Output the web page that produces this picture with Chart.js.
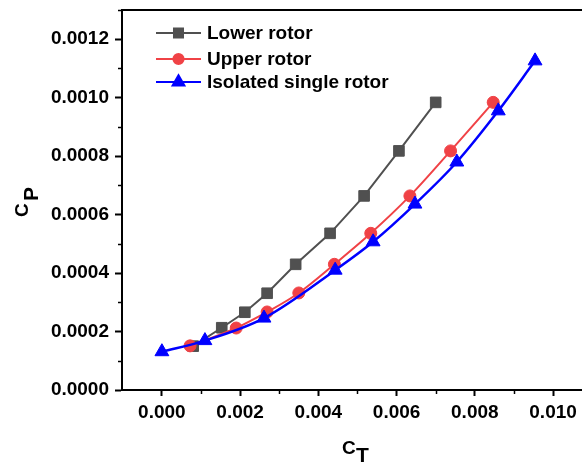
<!DOCTYPE html>
<html lang="en">
<head>
<meta charset="UTF-8">
<title>CP vs CT</title>
<style>
  html, body { margin: 0; padding: 0; background: #fff; overflow: hidden; }
  #wrap { width: 582px; height: 464px; position: relative; }
  canvas { display: block; }
</style>
</head>
<body>
<div id="wrap"><canvas id="grafico"></canvas></div>
<script src="https://cdn.jsdelivr.net/npm/chart.js"></script>
<script>
  // data
  const seriesNames = ['Lower rotor', 'Upper rotor', 'Isolated single rotor'];
  const lowerCT = [0.00080, 0.00153, 0.00212, 0.00269, 0.00342, 0.00430, 0.00517, 0.00606, 0.00700];
  const lowerCP = [0.000150, 0.000213, 0.000266, 0.000331, 0.000430, 0.000536, 0.000664, 0.000818, 0.000984];
  const upperCT = [0.00072, 0.00190, 0.00269, 0.00350, 0.00441, 0.00534, 0.00634, 0.00738, 0.00847];
  const upperCP = [0.000151, 0.000212, 0.000267, 0.000332, 0.000430, 0.000536, 0.000664, 0.000818, 0.000984];
  const singleCT = [0.00000, 0.00110, 0.00261, 0.00443, 0.00540, 0.00647, 0.00754, 0.00860, 0.00954];
  const singleCP = [0.000131, 0.000169, 0.000246, 0.000410, 0.000507, 0.000636, 0.000780, 0.000955, 0.001126];

  const xTicks = [0, 0.002, 0.004, 0.006, 0.008, 0.010];
  const xMinor = [0.001, 0.003, 0.005, 0.007, 0.009];
  const yTicks = [0, 0.0002, 0.0004, 0.0006, 0.0008, 0.0010, 0.0012];
  const yMinor = [0.0001, 0.0003, 0.0005, 0.0007, 0.0009, 0.0011, 0.0013];

  const cores = ['#505050', '#f04246', '#0000ff'];
  const estilos = ['rect', 'circle', 'triangle'];
  const raios = [7.5, 6, 8];

  function pontos(xs, ys) {
    return xs.map((x, i) => ({ x: x, y: ys[i] }));
  }

  const fonte = "'Liberation Sans', Arial, sans-serif";

  // legenda, borda de cima, ticks menores e títulos com subscrito
  const extras = {
    id: 'extras',
    afterDraw(chart) {
      const ctx = chart.ctx;
      const area = chart.chartArea;
      const sx = chart.scales.x, sy = chart.scales.y;
      ctx.save();
      ctx.strokeStyle = '#000';
      ctx.lineWidth = 2;
      ctx.beginPath();
      ctx.moveTo(area.left - 1, area.top);
      ctx.lineTo(area.right, area.top);
      ctx.stroke();

      ctx.lineWidth = 1.5;
      xMinor.forEach(v => {
        const px = Math.round(sx.getPixelForValue(v)) + 0.5;
        ctx.beginPath();
        ctx.moveTo(px, area.bottom);
        ctx.lineTo(px, area.bottom + 4);
        ctx.stroke();
      });
      yMinor.forEach(v => {
        const py = Math.round(sy.getPixelForValue(v)) + 0.5;
        ctx.beginPath();
        ctx.moveTo(area.left, py);
        ctx.lineTo(area.left - 4, py);
        ctx.stroke();
      });

      // legenda
      const linhas = [33, 59, 82];
      chart.data.datasets.forEach((ds, i) => {
        const y = linhas[i];
        ctx.strokeStyle = cores[i];
        ctx.fillStyle = cores[i];
        ctx.lineWidth = 2;
        ctx.beginPath();
        ctx.moveTo(156, y);
        ctx.lineTo(201, y);
        ctx.stroke();
        Chart.helpers.drawPoint(ctx, {
          pointStyle: estilos[i], radius: raios[i] * 0.85, rotation: 0, borderWidth: 1
        }, 178.5, y);
        ctx.fillStyle = '#000';
        ctx.font = 'bold 19px ' + fonte;
        ctx.textBaseline = 'middle';
        ctx.textAlign = 'left';
        ctx.fillText(ds.label, 207, y + 1);
      });

      // título do eixo x: C_T
      ctx.fillStyle = '#000';
      ctx.textBaseline = 'alphabetic';
      ctx.font = 'bold 19px ' + fonte;
      ctx.fillText('C', 342, 454);
      ctx.font = 'bold 21px ' + fonte;
      ctx.fillText('T', 356, 462);

      // título do eixo y: C_P (girado)
      ctx.translate(28, 217);
      ctx.rotate(-Math.PI / 2);
      ctx.font = 'bold 19px ' + fonte;
      ctx.fillText('C', 0, 0);
      ctx.font = 'bold 21px ' + fonte;
      ctx.fillText('P', 16, 10);
      ctx.restore();
    }
  };

  new Chart(document.getElementById('grafico'), {
    type: 'scatter',
    data: {
      datasets: [
        { label: seriesNames[0], data: pontos(lowerCT, lowerCP), order: 3, tension: 0 },
        { label: seriesNames[1], data: pontos(upperCT, upperCP), order: 2, cubicInterpolationMode: 'monotone' },
        { label: seriesNames[2], data: pontos(singleCT, singleCP), order: 1, cubicInterpolationMode: 'monotone' }
      ].map((ds, i) => Object.assign(ds, {
        showLine: true,
        borderColor: cores[i],
        backgroundColor: cores[i],
        borderWidth: i === 2 ? 2.5 : 2,
        pointStyle: estilos[i],
        pointRadius: raios[i],
        pointHoverRadius: raios[i],
        pointBorderWidth: 1,
        pointBackgroundColor: cores[i],
        pointBorderColor: cores[i]
      }))
    },
    options: {
      responsive: true,
      maintainAspectRatio: false,
      animation: false,
      layout: { autoPadding: false, padding: { top: 10, right: 0, bottom: 0, left: 0 } },
      plugins: { legend: { display: false }, tooltip: { enabled: false } },
      scales: {
        x: {
          type: 'linear',
          min: -0.00102,
          max: 0.01074,
          afterBuildTicks: s => { s.ticks = xTicks.map(v => ({ value: v })); },
          afterFit: s => { s.height = 74; s.paddingLeft = 0; s.paddingRight = 0; },
          grid: { drawOnChartArea: false, drawTicks: true, tickLength: 6, tickWidth: 2, tickColor: '#000' },
          border: { color: '#000', width: 2 },
          ticks: {
            color: '#000',
            padding: 5,
            maxRotation: 0,
            font: { family: fonte, size: 19, weight: 'bold' },
            callback: v => v.toFixed(3)
          }
        },
        y: {
          type: 'linear',
          min: 0,
          max: 0.0013,
          afterBuildTicks: s => { s.ticks = yTicks.map(v => ({ value: v })); },
          afterFit: s => { s.width = 122; s.paddingTop = 0; s.paddingBottom = 0; },
          grid: { drawOnChartArea: false, drawTicks: true, tickLength: 7, tickWidth: 2, tickColor: '#000' },
          border: { color: '#000', width: 2 },
          ticks: {
            color: '#000',
            padding: 6,
            font: { family: fonte, size: 19, weight: 'bold' },
            callback: v => v.toFixed(4)
          }
        }
      }
    },
    plugins: [extras]
  });
</script>
</body>
</html>
